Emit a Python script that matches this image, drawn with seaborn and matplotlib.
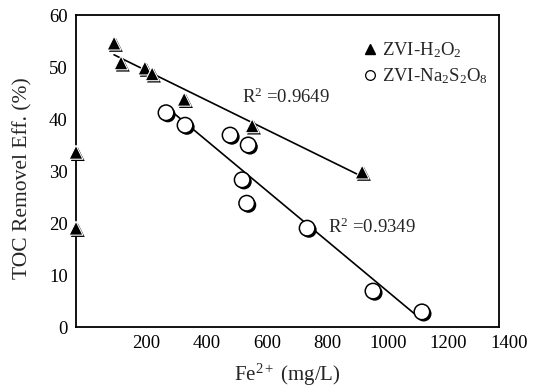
import numpy as np
import pandas as pd
import matplotlib
matplotlib.use("Agg")
import matplotlib.pyplot as plt
import matplotlib.patheffects as pe
from matplotlib.transforms import ScaledTranslation
from matplotlib.lines import Line2D
import seaborn as sns

# ---- data ----
h2o2_fe = [126, 149, 228, 252, 358, 583, 947]
h2o2_toc = [54.6, 50.8, 49.8, 48.7, 43.8, 38.7, 29.8]
h2o2_zero_fe = [0, 0]
h2o2_zero_toc = [33.6, 19.0]
na_fe = [298, 361, 510, 570, 550, 565, 765, 983, 1145]
na_toc = [41.2, 38.8, 36.9, 35.0, 28.3, 23.8, 19.0, 6.9, 2.9]
x_ticks = [200, 400, 600, 800, 1000, 1200, 1400]
y_ticks = [0, 10, 20, 30, 40, 50, 60]
r2_labels = [r"R$^{2}$ =0.9649", r"R$^{2}$ =0.9349"]
series_labels = [r"ZVI-H$_2$O$_2$", r"ZVI-Na$_2$S$_2$O$_8$"]

sns.set_style("white")
plt.rcParams["font.family"] = ["Liberation Serif", "DejaVu Serif"]
plt.rcParams["mathtext.fontset"] = "custom"
plt.rcParams["mathtext.rm"] = "Liberation Serif"
plt.rcParams["mathtext.it"] = "Liberation Serif:italic"
plt.rcParams["mathtext.bf"] = "Liberation Serif:bold"
plt.rcParams["mathtext.default"] = "rm"

fig = plt.figure(figsize=(5.35, 3.88), dpi=100)
ax = fig.add_axes([76/535, 1-327/388, (499-76)/535, (327-15)/388])

df_h = pd.DataFrame({"fe": h2o2_fe, "toc": h2o2_toc})
df_h0 = pd.DataFrame({"fe": h2o2_zero_fe, "toc": h2o2_zero_toc})
df_n = pd.DataFrame({"fe": na_fe, "toc": na_toc})

# regression lines
sns.regplot(data=df_h, x="fe", y="toc", scatter=False, ci=None, truncate=True,
            line_kws=dict(color="black", lw=1.2), ax=ax)
sns.regplot(data=df_n, x="fe", y="toc", scatter=False, ci=None, truncate=True,
            line_kws=dict(color="black", lw=1.2), ax=ax)

shadow = [pe.SimplePatchShadow(offset=(1.3, -1.3), shadow_rgbFace="black", alpha=1.0), pe.Normal()]

for d in (df_h, df_h0):
    sns.scatterplot(data=d, x="fe", y="toc", marker="^", s=100, color="black",
                    edgecolor="white", linewidth=0.8, ax=ax, zorder=5, clip_on=False)
sns.scatterplot(data=df_n, x="fe", y="toc", marker="o", s=125, color="white",
                edgecolor="black", linewidth=1.1, ax=ax, zorder=5)
for c in ax.collections:
    c.set_path_effects(shadow)

ax.set_xlim(0, 1400)
ax.set_ylim(0, 60)
ax.set_xticks(x_ticks)
ax.set_yticks(y_ticks)
ax.tick_params(length=0, labelsize=13.5, colors="black")
ax.tick_params(axis="y", pad=6)
ax.tick_params(axis="x", pad=6)
off = ScaledTranslation(0.10, 0, fig.dpi_scale_trans)
for lab in ax.get_xticklabels():
    lab.set_transform(lab.get_transform() + off)
for sp in ax.spines.values():
    sp.set_color("black")
    sp.set_linewidth(1.3)

ax.set_xlabel(r"Fe$^{2+}$ (mg/L)", fontsize=15)
ax.set_ylabel("TOC Removel Eff. (%)", fontsize=15.5)
ax.xaxis.set_label_coords(0.5, -0.11)
ax.yaxis.set_label_coords(-0.102, 0.478)

ax.text(549, 44.2, r2_labels[0], fontsize=13.5, va="center", ha="left")
ax.text(834, 19.2, r2_labels[1], fontsize=13.5, va="center", ha="left")

handles = [Line2D([], [], marker="^", ls="", color="black", markersize=6.5),
           Line2D([], [], marker="o", ls="", markerfacecolor="white",
                  markeredgecolor="black", markersize=7, markeredgewidth=0.9)]
ax.legend(handles, series_labels, loc="upper right", frameon=False, fontsize=13.5,
          handletextpad=0.2, handlelength=0.9, labelspacing=0.35,
          bbox_to_anchor=(1.0, 0.955), borderaxespad=0.2)

fig.savefig("out.png", dpi=100)
